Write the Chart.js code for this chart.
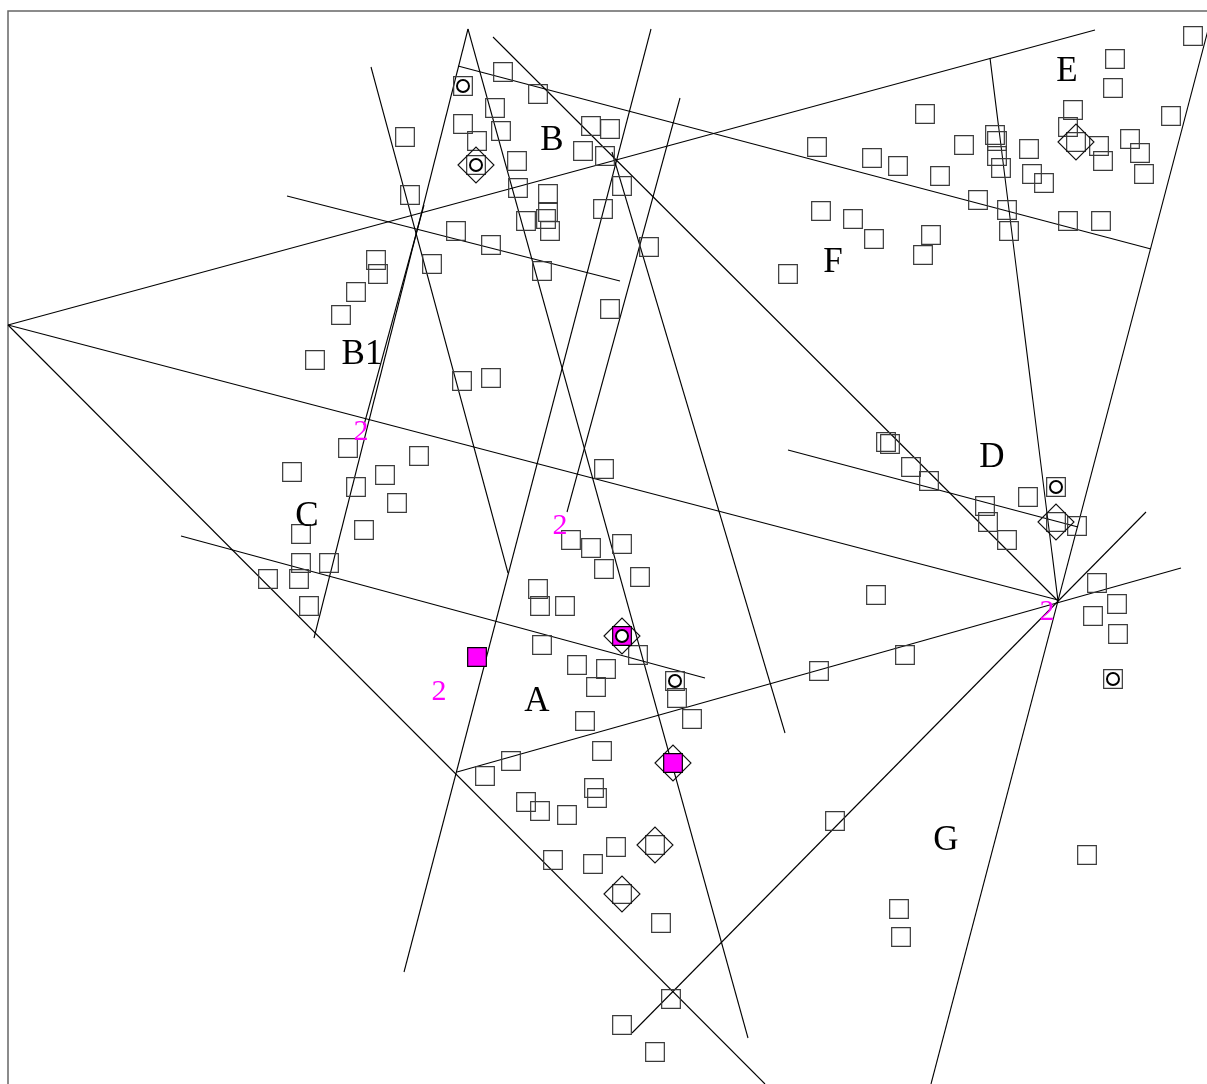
<!DOCTYPE html>
<html>
<head>
<meta charset="utf-8">
<script src="https://cdn.jsdelivr.net/npm/chart.js@4/dist/chart.umd.min.js"></script>
<style>
  html, body { margin: 0; padding: 0; background: #fff; }
  canvas { display: block; }
</style>
</head>
<body>
<canvas id="map" width="1207" height="1084"></canvas>
<script>
// plot units follow the picture: x 0..1207, y 0..1084 (downwards)
const frame = [[8, 1084], [8, 11], [1207, 11]];

const edges = [
  [8, 325, 1095, 30],
  [8, 325, 1058, 600],
  [8, 325, 765, 1084],
  [493, 37, 1058, 601],
  [990, 58, 1058, 601],
  [1208, 30, 931, 1084],
  [457, 772, 1181, 568],
  [632, 1033, 1146, 512],
  [458, 66, 1151, 249],
  [287, 196, 620, 281],
  [181, 536, 705, 678],
  [788, 450, 1078, 527],
  [468, 29, 748, 1038],
  [371, 67, 508, 573],
  [651, 29, 404, 972],
  [680, 98, 567, 512],
  [612, 152, 785, 733],
  [468, 29, 314, 638],
  [424, 205, 364, 425],
];

const squares = [
  // B, B1
  [405, 137], [410, 195], [376, 260], [378, 274], [356, 292], [341, 315], [315, 360],
  [463, 86], [503, 72], [538, 94], [495, 108], [463, 124], [501, 131], [477, 141],
  [476, 165], [591, 126], [610, 129], [583, 151], [605, 156], [517, 161], [518, 188],
  [548, 194], [548, 212], [546, 219], [550, 231], [526, 221], [603, 209], [622, 186],
  [456, 231], [491, 245], [432, 264], [542, 271], [649, 247], [788, 274], [610, 309],
  [491, 378], [462, 381],
  // E, F
  [1193, 36], [1115, 59], [1113, 88], [1073, 110], [1068, 127], [1076, 142], [1171, 116],
  [925, 114], [817, 147], [872, 158], [898, 166], [940, 176], [964, 145], [995, 135],
  [997, 141], [997, 156], [1001, 168], [1029, 149], [1032, 174], [1044, 183], [1099, 146],
  [1103, 161], [1130, 139], [1140, 153], [1144, 174], [978, 200], [1007, 210], [1009, 231],
  [1068, 221], [1101, 221], [821, 211], [853, 219], [874, 239], [931, 235], [923, 255],
  // C
  [348, 448], [292, 472], [356, 487], [385, 475], [397, 503], [419, 456], [364, 530],
  [301, 534], [301, 563], [329, 563], [268, 579], [299, 579], [309, 606],
  // A
  [604, 469], [571, 540], [591, 548], [622, 544], [604, 569], [640, 577], [538, 589],
  [540, 606], [565, 606], [542, 645], [638, 655], [577, 665], [606, 669], [596, 687],
  [675, 681], [677, 698], [585, 721], [692, 719], [602, 751], [511, 761], [485, 776],
  [594, 788], [597, 798], [526, 802], [540, 811], [567, 815], [616, 847], [655, 845],
  [553, 860], [593, 864], [622, 894], [661, 923], [671, 999], [622, 1025], [655, 1052],
  // D
  [886, 442], [890, 444], [911, 467], [929, 481], [1056, 487], [1028, 497], [985, 506],
  [988, 522], [1007, 540], [1056, 522], [1077, 526], [1097, 583], [1117, 604], [1093, 616],
  [1118, 634], [1113, 679], [876, 595], [905, 655], [819, 671],
  // G
  [835, 821], [1087, 855], [899, 909], [901, 937],
];

const filledSquares = [[477, 657], [673, 763], [622, 636]];
const rings = [[463, 86], [476, 165], [1056, 487], [675, 681], [1113, 679], [622, 636]];
const diamonds = [[476, 165], [1076, 142], [1056, 522], [622, 636], [673, 763], [655, 845], [622, 894]];

const regionLabels = ['A', 'B', 'B1', 'C', 'D', 'E', 'F', 'G'];
const regionX = [537, 552, 362, 307, 992, 1067, 833, 946];
const regionY = [699, 138, 352, 514, 455, 69, 260, 838];

const countLabels = ['2', '2', '2', '2'];
const countX = [361, 560, 439, 1047];
const countY = [430, 524, 690, 610];

const toPts = arr => arr.map(([x, y]) => ({ x, y }));

const markSets = [
  {
    data: toPts(rings),
    pointStyle: 'circle', pointRadius: 6,
    backgroundColor: '#fff', borderColor: '#000', borderWidth: 2,
  },
  {
    data: toPts(filledSquares),
    pointStyle: 'rect', pointRadius: 13.2,
    backgroundColor: '#ff00ff', borderColor: '#000', borderWidth: 1.2,
  },
  {
    data: toPts(diamonds),
    pointStyle: 'rectRot', pointRadius: 18,
    backgroundColor: 'rgba(0,0,0,0)', borderColor: '#111', borderWidth: 1.1,
  },
  {
    data: toPts(squares),
    pointStyle: 'rect', pointRadius: 13.2,
    backgroundColor: 'rgba(0,0,0,0)', borderColor: '#3a3a3a', borderWidth: 1.2,
  },
];

const edgeSets = edges.map(([x1, y1, x2, y2]) => ({
  data: [{ x: x1, y: y1 }, { x: x2, y: y2 }],
  showLine: true, pointRadius: 0,
  borderColor: '#000', borderWidth: 1.1,
}));

const frameSet = {
  data: toPts(frame),
  showLine: true, pointRadius: 0,
  borderColor: '#666', borderWidth: 1.5,
};

const textPlugin = {
  id: 'regionText',
  afterDatasetsDraw(chart) {
    const { ctx, scales: { x, y } } = chart;
    ctx.save();
    ctx.textAlign = 'center';
    ctx.textBaseline = 'alphabetic';
    ctx.fillStyle = '#000';
    ctx.font = '35px "Liberation Serif", "Times New Roman", serif';
    regionLabels.forEach((t, i) => {
      ctx.fillText(t, x.getPixelForValue(regionX[i]), y.getPixelForValue(regionY[i]) + 12);
    });
    ctx.fillStyle = '#ff00ff';
    ctx.font = '30px "Liberation Serif", "Times New Roman", serif';
    countLabels.forEach((t, i) => {
      ctx.fillText(t, x.getPixelForValue(countX[i]), y.getPixelForValue(countY[i]) + 10);
    });
    ctx.restore();
  },
};

new Chart(document.getElementById('map'), {
  type: 'scatter',
  data: { datasets: [...markSets, ...edgeSets, frameSet] },
  options: {
    responsive: false,
    animation: false,
    devicePixelRatio: 1,
    layout: { padding: 0, autoPadding: false },
    plugins: { legend: { display: false }, tooltip: { enabled: false } },
    scales: {
      x: { type: 'linear', min: 0, max: 1207, display: false },
      y: { type: 'linear', min: 0, max: 1084, reverse: true, display: false },
    },
  },
  plugins: [textPlugin],
});
</script>
</body>
</html>
